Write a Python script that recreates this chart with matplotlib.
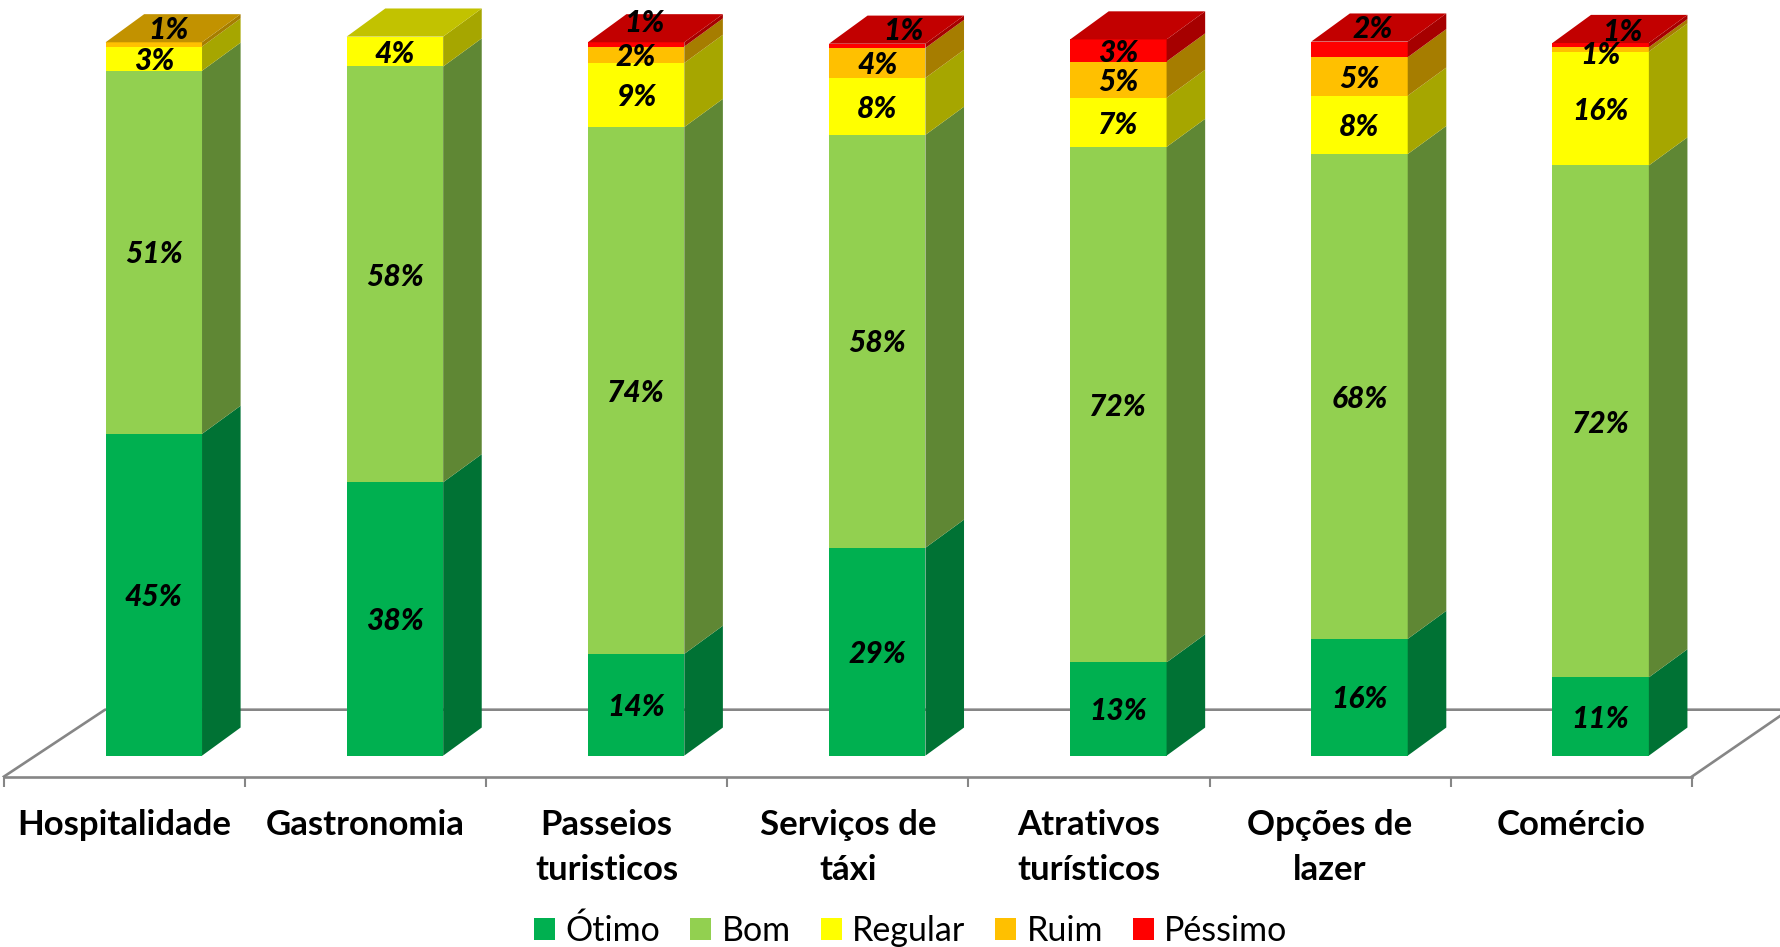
import matplotlib
matplotlib.use('Agg')
import matplotlib.pyplot as plt
from matplotlib.colors import to_rgb
from matplotlib.patches import Polygon

plt.rcParams['font.family'] = ['Lato', 'DejaVu Sans']

categories = ['Hospitalidade', 'Gastronomia', 'Passeios\nturisticos', 'Serviços de\ntáxi',
              'Atrativos\nturísticos', 'Opções de\nlazer', 'Comércio']
series = ['Ótimo', 'Bom', 'Regular', 'Ruim', 'Péssimo']
otimo = [45.2, 38.4, 14.3, 29.2, 13.1, 16.4, 11.0]
bom = [51.0, 58.4, 74.0, 58.0, 72.4, 68.1, 71.9]
regular = [3.4, 4.2, 9.0, 8.0, 6.9, 8.2, 16.0]
ruim = [0.6, 0, 2.3, 4.2, 5.1, 5.4, 0.6]
pessimo = [0, 0, 0.6, 0.6, 3.1, 2.2, 0.6]
values = [otimo, bom, regular, ruim, pessimo]
colors = ['#00B050', '#92D050', '#FFFF00', '#FFC000', '#FF0000']

# labels Excel pushed away from the centre of their segment (category units, percent)
nudge = {(0, 3): (0.06, 2.3), (2, 4): (0.035, 3.3), (3, 4): (0.11, 2.4),
         (5, 4): (0.054, 3.2), (6, 3): (0, -0.5), (6, 4): (0.09, 2.2)}

# layout, measured on the 1568x834 view
W, H = 1568, 834
px_per_cat = 212.3
px_per_pct = 6.27
cat0_x = 109.5
base_y = 665.5
floor_y = 684

bar_width = 0.4
bar_shift = 0.122
depth_x = 0.16
depth_y = 3.95
label_drop = 0.3


def shade(color, k):
    return tuple(c * k for c in to_rgb(color))


fig = plt.figure(figsize=(17.81, 9.47), dpi=100)
ax = fig.add_axes([0, (H - floor_y) / H, 1, floor_y / H])
ax.set_xlim(-cat0_x / px_per_cat, (W - cat0_x) / px_per_cat)
ax.set_ylim((base_y - floor_y) / px_per_pct, base_y / px_per_pct)

# floor of the 3D chart
grey = '#868686'
back_y = (base_y - 625) / px_per_pct
low_y = ax.get_ylim()[0]
ax.plot([-0.5, -0.08, 6.87], [low_y, back_y, back_y], color=grey, lw=1.9, zorder=1)
ax.plot([6.5, 6.87], [low_y, (base_y - 630) / px_per_pct], color=grey, lw=1.9, zorder=1)

handles = []
bottoms = [0] * len(categories)
for s, vals in enumerate(values):
    xs = [i + bar_shift for i in range(len(categories))]
    b = ax.bar(xs, vals, bar_width, bottom=bottoms, color=colors[s], zorder=3, label=series[s])
    handles.append(b)
    for i, v in enumerate(vals):
        if v == 0:
            continue
        x1 = xs[i] + bar_width / 2
        y0, y1 = bottoms[i], bottoms[i] + v
        ax.add_patch(Polygon([(x1, y0), (x1 + depth_x, y0 + depth_y),
                              (x1 + depth_x, y1 + depth_y), (x1, y1)],
                             color=shade(colors[s], 0.65), lw=0, zorder=3))
    bottoms = [t + v for t, v in zip(bottoms, vals)]

# top face takes the colour of the last non empty segment
for i, top in enumerate(bottoms):
    last = max(s for s in range(len(series)) if values[s][i] > 0)
    x0 = i + bar_shift - bar_width / 2
    x1 = x0 + bar_width
    ax.add_patch(Polygon([(x0, top), (x1, top), (x1 + depth_x, top + depth_y), (x0 + depth_x, top + depth_y)],
                         color=shade(colors[last], 0.76), lw=0, zorder=3))

# data labels
bottoms = [0] * len(categories)
for s, vals in enumerate(values):
    for i, v in enumerate(vals):
        if v == 0:
            continue
        dx, dy = nudge.get((i, s), (0, 0))
        ax.text(i + bar_shift + dx, bottoms[i] + v / 2 + dy - label_drop, f'{round(v)}%', ha='center', va='center',
                fontsize=21.5, fontweight=900, fontstyle='italic', color='black', zorder=5)
    bottoms = [t + v for t, v in zip(bottoms, vals)]

for side in ['top', 'left', 'right']:
    ax.spines[side].set_visible(False)
ax.spines['bottom'].set_bounds(-0.5, 6.5)
ax.spines['bottom'].set_color(grey)
ax.spines['bottom'].set_linewidth(1.9)
ax.yaxis.set_visible(False)
ax.set_xticks(range(len(categories)))
ax.set_xticklabels(categories, fontsize=25, fontweight='bold', linespacing=1.52)
ax.tick_params(axis='x', which='major', length=0, pad=23)
ax.set_xticks([i - 0.5 for i in range(len(categories) + 1)], minor=True)
ax.tick_params(axis='x', which='minor', length=7.5, width=1.5, color=grey)
ax.patch.set_alpha(0)

fig.legend(handles=handles, ncol=5, loc='center', bbox_to_anchor=(802 / W, (H - 819.5) / H), frameon=False,
           fontsize=24.5, handlelength=0.62, handleheight=0.62, handletextpad=0.3, columnspacing=0.88)

fig.savefig('out.png', dpi=100)
